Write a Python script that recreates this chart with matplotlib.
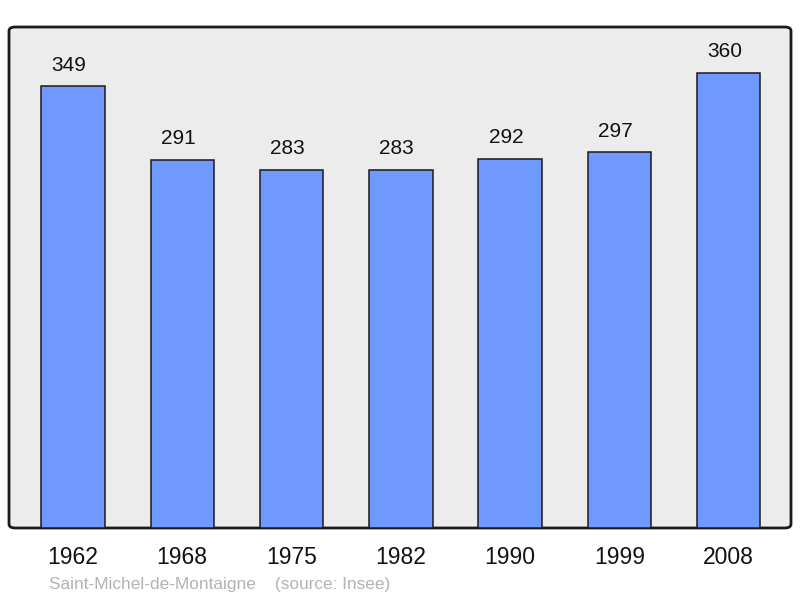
import matplotlib
matplotlib.use("Agg")
import matplotlib.pyplot as plt
from matplotlib.patches import FancyBboxPatch

years = ["1962", "1968", "1975", "1982", "1990", "1999", "2008"]
population = [349, 291, 283, 283, 292, 297, 360]

plt.rcParams['font.family'] = ['Liberation Sans', 'DejaVu Sans']

fig = plt.figure(figsize=(8, 5.98), dpi=100)
ax = fig.add_axes([9/800, 70/598, 782/800, 501/598])
ax.patch.set_visible(False)
for s in ax.spines.values():
    s.set_visible(False)

frame = FancyBboxPatch((0, 0), 1, 1, boxstyle="round,pad=0,rounding_size=0.008",
                       transform=ax.transAxes, facecolor="#ececec", edgecolor="#1a1a1a",
                       linewidth=2, clip_on=False, zorder=0)
ax.add_patch(frame)

x = list(range(len(years)))
ax.bar(x, population, width=0.58, color="#7099ff", edgecolor="#1a1a1a", linewidth=1.1, zorder=2)
for xi, v in zip(x, population):
    ax.annotate(str(v), (xi, v), xytext=(-4, 21), textcoords="offset pixels",
                ha="center", va="center", fontsize=15, color="#111111")

ax.set_xlim(-0.585, 6.57)
ax.set_ylim(0, 396)
ax.set_yticks([])
ax.set_xticks(x)
ax.set_xticklabels(years, fontsize=16.5, color="#111111")
ax.tick_params(axis="x", length=0, pad=13)

fig.text(49/800, 1 - 584/598, "Saint-Michel-de-Montaigne    (source: Insee)",
         fontsize=12.4, color="#b3b3b3", ha="left", va="center")

fig.savefig("out.png", dpi=100)
